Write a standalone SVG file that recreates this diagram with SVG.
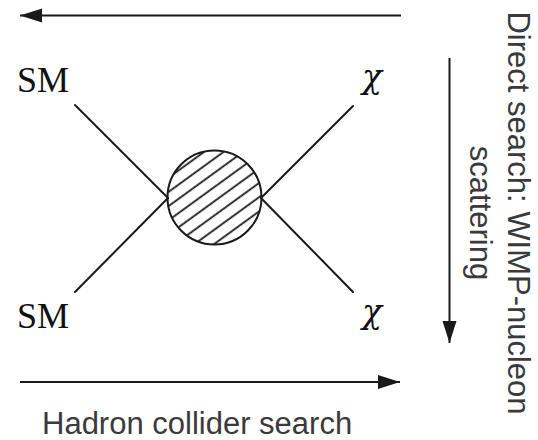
<svg xmlns="http://www.w3.org/2000/svg" width="538" height="440" viewBox="0 0 538 440">
<style>
.ln{stroke:#1a1a1a;stroke-width:2;fill:none;stroke-linecap:round}
.ar{stroke:#1a1a1a;stroke-width:2;fill:none}
.sm{font-family:"Liberation Serif","Times New Roman",serif;font-size:36px;fill:#111}
.chi{font-family:"DejaVu Serif",serif;font-size:33px;font-style:italic;fill:#111}
.lb{font-family:"Liberation Sans",Arial,sans-serif;font-size:31px;fill:#3a3a3a}
</style>
<defs>
<marker id="ah" markerUnits="userSpaceOnUse" markerWidth="24" markerHeight="16" refX="22" refY="7" orient="auto">
<path d="M0,0 L22,7 L0,14 Z" fill="#1a1a1a"/>
</marker>
<pattern id="hatch" patternUnits="userSpaceOnUse" width="20" height="11.5" patternTransform="rotate(-36 214.5 197.5)">
<line x1="-5" y1="5" x2="25" y2="5" stroke="#1a1a1a" stroke-width="1.8"/>
</pattern>
</defs>
<g id="connectors">
<line class="ln" x1="75" y1="105" x2="168" y2="198"/>
<line class="ln" x1="75" y1="292" x2="168" y2="198"/>
<line class="ln" x1="353" y1="106" x2="261" y2="198"/>
<line class="ln" x1="353" y1="292" x2="261" y2="198"/>
<line class="ar" x1="401" y1="15.5" x2="20" y2="15.5" marker-end="url(#ah)"/>
<line class="ar" x1="20" y1="382" x2="400" y2="382" marker-end="url(#ah)"/>
<line class="ar" x1="449.5" y1="58" x2="449.5" y2="343" marker-end="url(#ah)"/>
</g>
<g id="blob">
<circle cx="214.5" cy="197.5" r="47" fill="url(#hatch)" stroke="#1a1a1a" stroke-width="2"/>
</g>
<g id="sm-top"><text class="sm" x="17" y="92">SM</text></g>
<g id="chi-top"><text class="chi" x="362" y="88">χ</text></g>
<g id="sm-bottom"><text class="sm" x="17" y="328">SM</text></g>
<g id="chi-bottom"><text class="chi" x="362" y="323">χ</text></g>
<g id="label-direct">
<text class="lb" text-anchor="middle" transform="translate(507.5,213) rotate(90)">Direct search: WIMP-nucleon</text>
<text class="lb" text-anchor="middle" transform="translate(470,213) rotate(90)">scattering</text>
</g>
<g id="label-hadron"><text class="lb" x="42" y="434">Hadron collider search</text></g>
</svg>
